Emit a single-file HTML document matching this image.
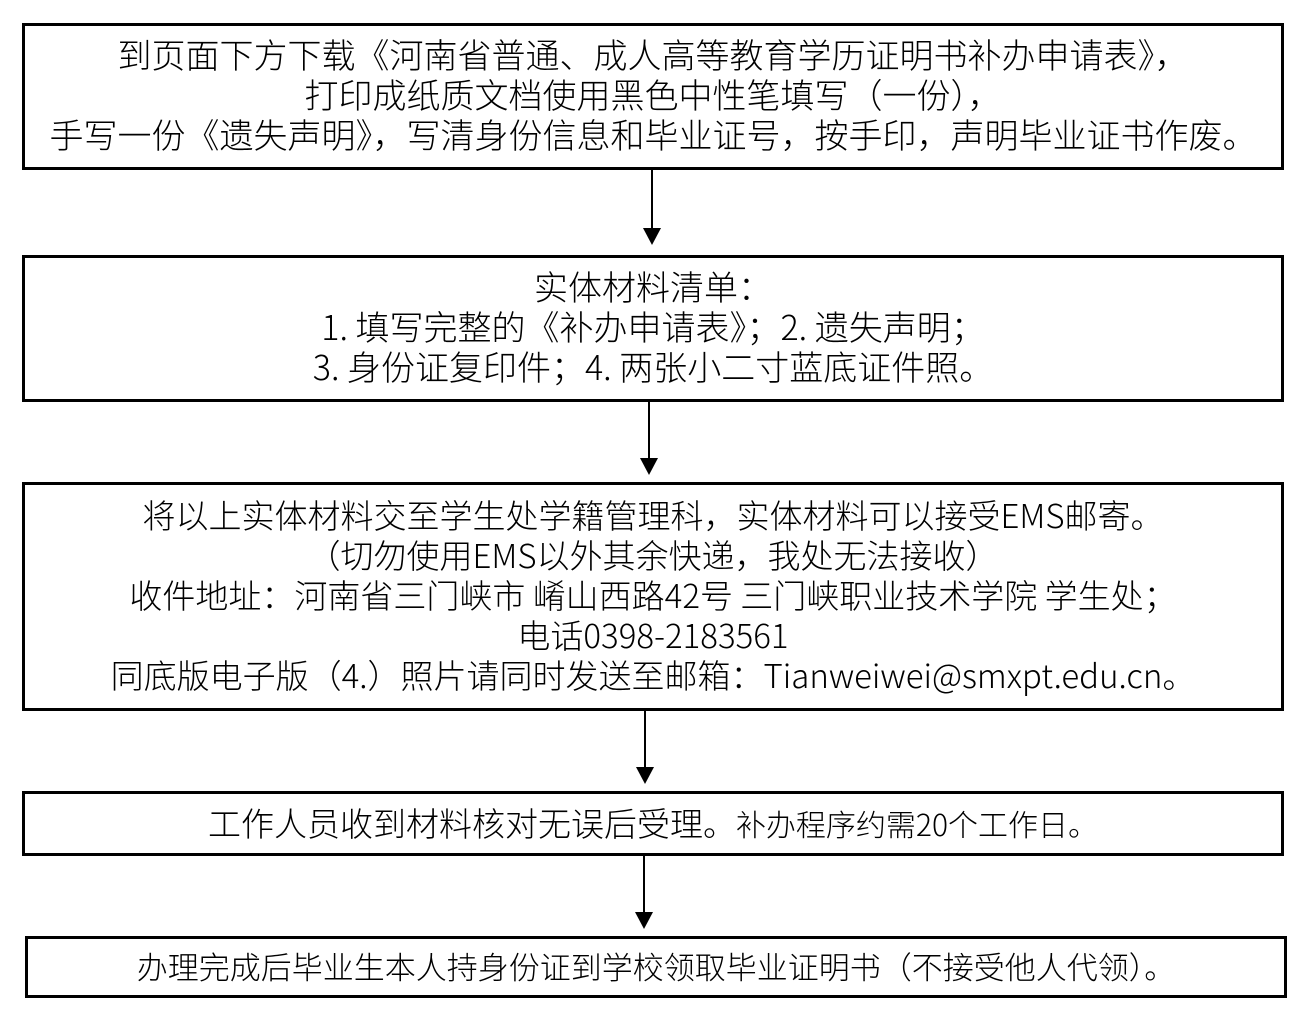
<!DOCTYPE html>
<html><head><meta charset="utf-8"><style>
body{margin:0;background:#fff;width:1310px;height:1020px;position:relative;overflow:hidden;font-family:"Noto Sans CJK SC","Liberation Sans",sans-serif;color:#000;font-weight:300}
.b{position:absolute;border:3px solid #000;box-sizing:border-box;display:flex;flex-direction:column;justify-content:center;align-items:center;text-align:center;font-size:33px;line-height:40px;white-space:nowrap;padding-bottom:5px}
.b div{height:40px}
.v{position:absolute;width:2px;background:#000}
.h{position:absolute;width:0;height:0;border-left:9px solid transparent;border-right:9px solid transparent;border-top:17px solid #000}
</style></head><body>
<div class="b" style="left:22px;top:23px;width:1262px;height:147px;font-size:34px"><div>到页面下方下载《河南省普通、成人高等教育学历证明书补办申请表》，</div><div>打印成纸质文档使用黑色中性笔填写（一份），</div><div>手写一份《遗失声明》，写清身份信息和毕业证号，按手印，声明毕业证书作废。</div></div>
<div class="v" style="left:651px;top:170px;height:60px"></div><div class="h" style="left:643px;top:228px"></div>
<div class="b" style="left:22px;top:255px;width:1262px;height:147px;font-size:34px"><div>实体材料清单：</div><div>1. 填写完整的《补办申请表》；2. 遗失声明；</div><div>3. 身份证复印件；4. 两张小二寸蓝底证件照。</div></div>
<div class="v" style="left:648px;top:402px;height:57px"></div><div class="h" style="left:640px;top:458px"></div>
<div class="b" style="left:22px;top:482px;width:1262px;height:229px"><div>将以上实体材料交至学生处学籍管理科，实体材料可以接受EMS邮寄。</div><div>（切勿使用EMS以外其余快递，我处无法接收）</div><div>收件地址：河南省三门峡市 崤山西路42号 三门峡职业技术学院 学生处；</div><div>电话0398-2183561</div><div>同底版电子版（4.）照片请同时发送至邮箱：Tianweiwei@smxpt.edu.cn。</div></div>
<div class="v" style="left:644px;top:711px;height:57px"></div><div class="h" style="left:636px;top:767px"></div>
<div class="b" style="left:22px;top:791px;width:1262px;height:65px;padding-bottom:3px"><div>工作人员收到材料核对无误后受理。<span style="font-size:30px">补办程序约需20个工作日。</span></div></div>
<div class="v" style="left:643px;top:856px;height:57px"></div><div class="h" style="left:635px;top:912px"></div>
<div class="b" style="left:25px;top:936px;width:1262px;height:62px;font-size:31px;padding-bottom:3px"><div>办理完成后毕业生本人持身份证到学校领取毕业证明书（不接受他人代领）。</div></div>
</body></html>
